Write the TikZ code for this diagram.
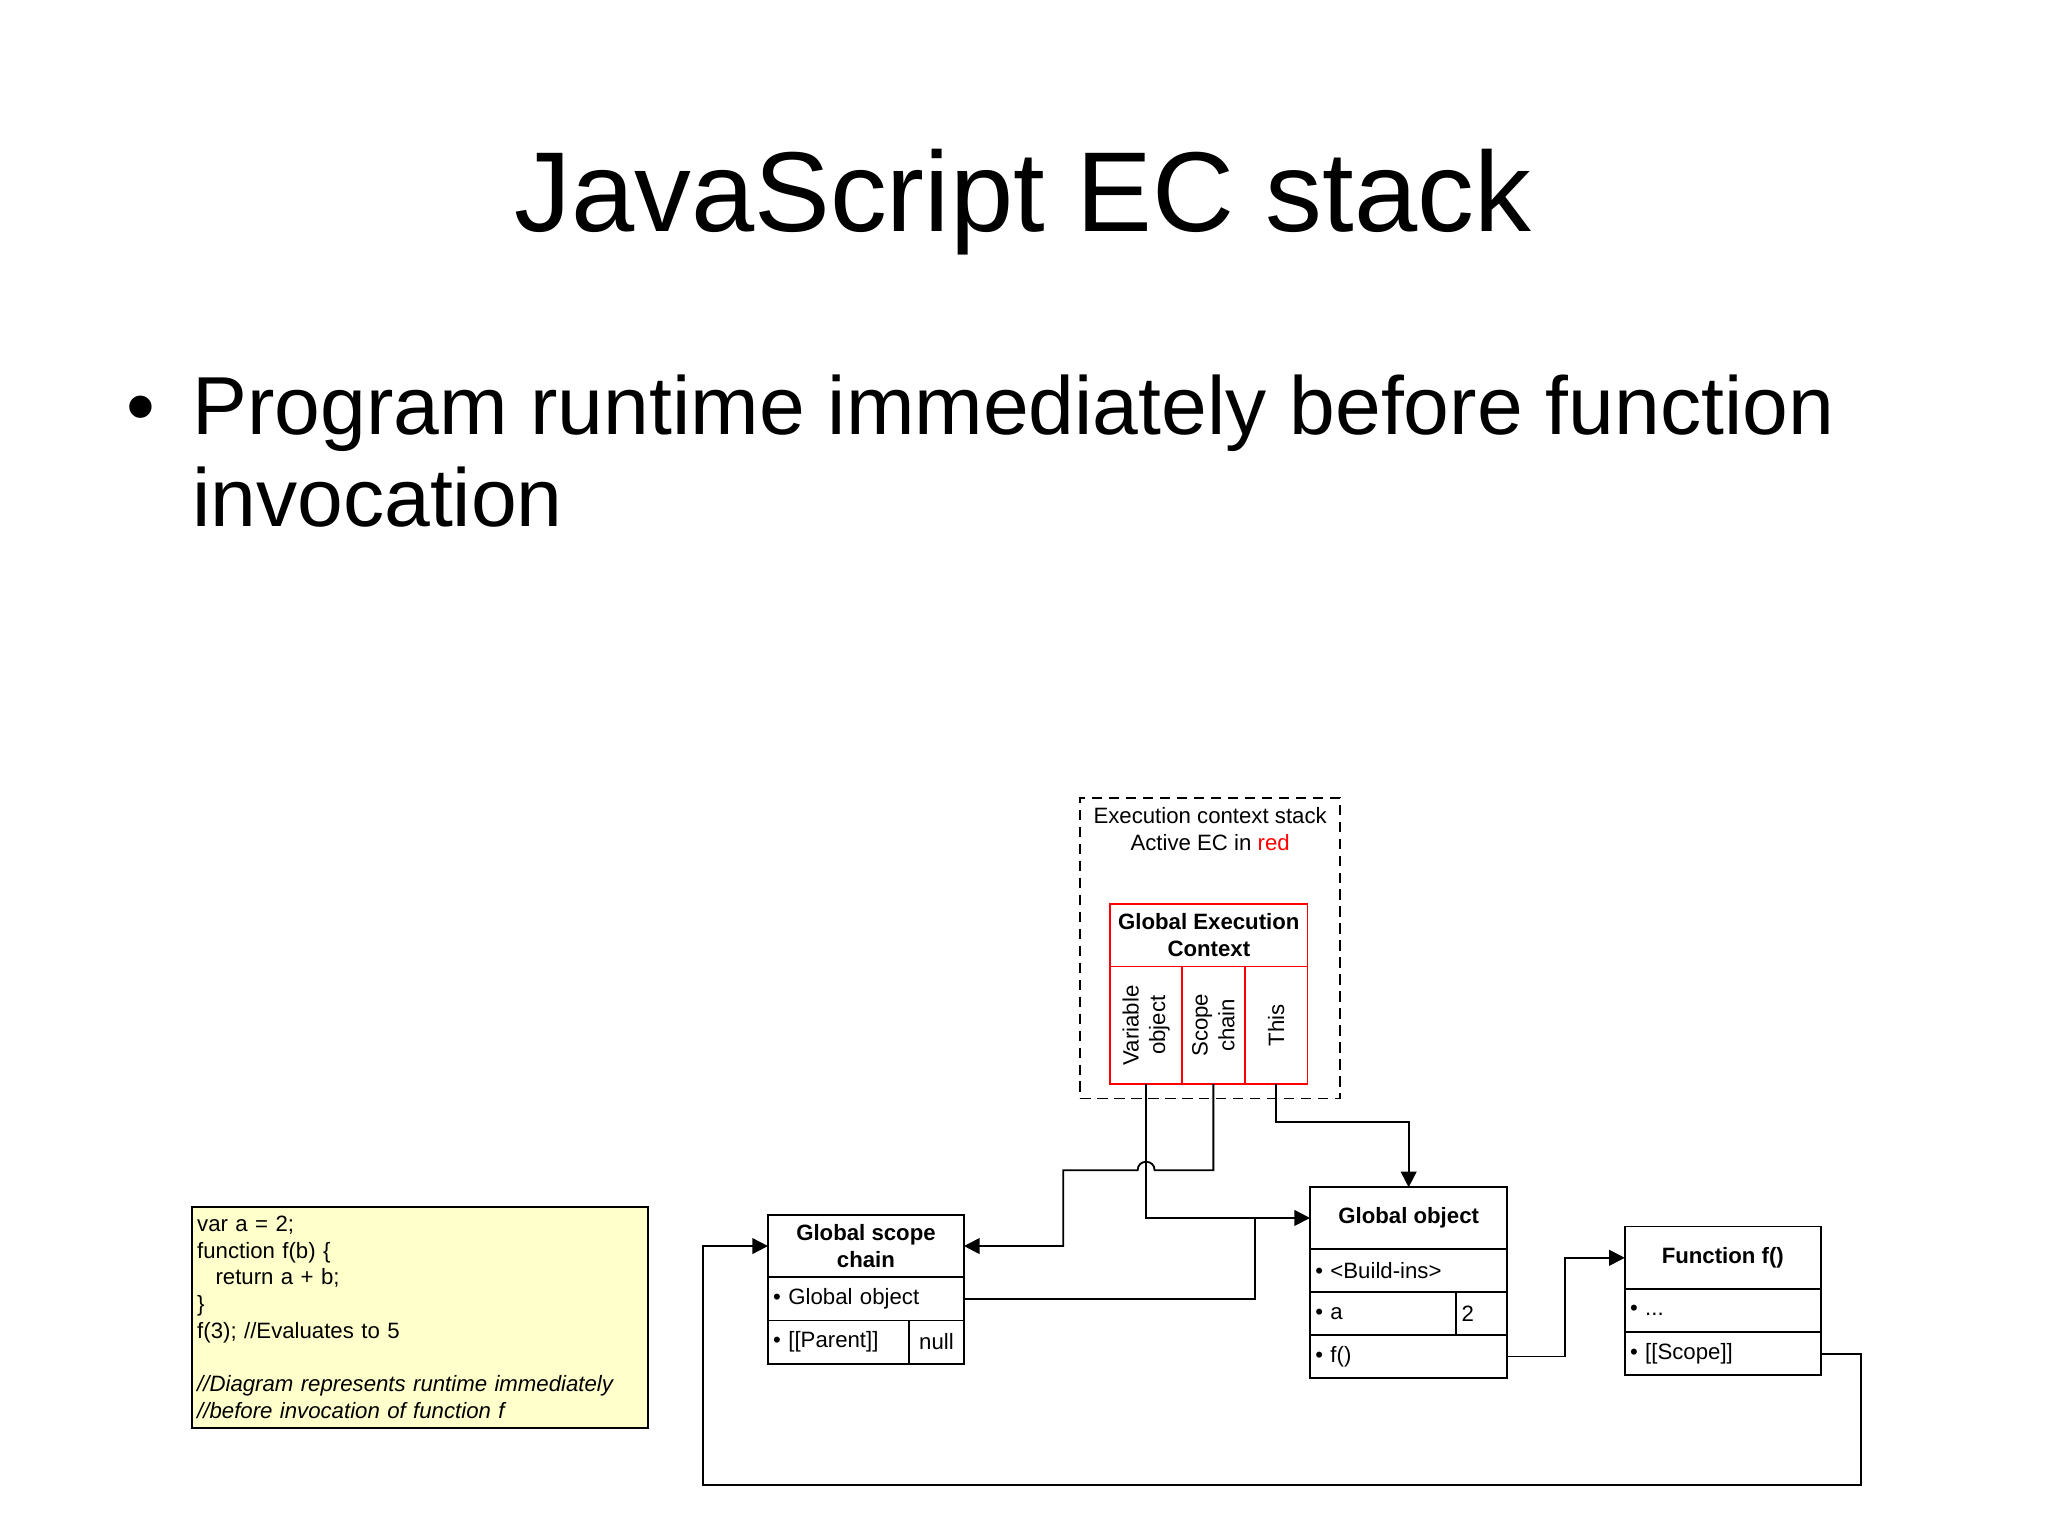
\documentclass[tikz,border=0pt]{standalone}
\usepackage{fontspec}
\setmainfont{Liberation Sans}
\usepackage{xcolor}
\definecolor{notepad}{HTML}{FFFFCC}
\definecolor{ecred}{HTML}{FF0000}
\usepackage{tikz}
\usetikzlibrary{arrows.meta,positioning,calc}
\newcommand{\diagfont}{\fontsize{17}{20.4}\selectfont}
\tikzset{
    obj_head/.style={draw=black, fill=white, line width=1.4pt, font=\diagfont\bfseries, align=center, inner sep=0pt, outer sep=0pt, minimum width=150pt, minimum height=48pt},
    obj_row/.style={draw=black, fill=white, line width=1.4pt, font=\diagfont, align=left, inner xsep=4pt, inner ysep=0pt, outer sep=0pt, minimum height=33pt},
    ec_head/.style={draw=ecred, fill=white, line width=1.4pt, font=\diagfont\bfseries, align=center, inner sep=0pt, outer sep=0pt, minimum width=151pt, minimum height=48pt},
    ec_col/.style={draw=ecred, fill=white, line width=1.4pt, inner sep=0pt, outer sep=0pt, minimum height=90pt},
    ec_text/.style={font=\diagfont, rotate=90, align=center, inner sep=0pt},
    stack_box/.style={draw=black, dash pattern=on 8pt off 5pt, line width=1.4pt, inner sep=0pt, outer sep=0pt, minimum width=199pt, minimum height=230pt},
    code_box/.style={draw=black, fill=notepad, line width=1.4pt, font=\diagfont, align=left, inner xsep=4pt, inner ysep=0pt, outer sep=0pt, text width=341pt, minimum height=169pt},
    conn/.style={draw=black, line width=1.4pt, -{Triangle[length=12pt,width=12pt]}},
    link/.style={draw=black, line width=1.4pt}
}

\begin{document}
\begin{tikzpicture}[x=1pt, y=-1pt]
\fill[white] (0,0) rectangle (1568,1175);
\useasboundingbox (0,0) rectangle (1568,1175);

% slide text
\node[font=\fontsize{87}{96}\selectfont, anchor=base, inner sep=0pt] (title) at (783,177) {JavaScript EC stack};
\node[font=\fontsize{63}{70}\selectfont, anchor=base west, inner sep=0pt] (dot) at (97,333) {•};
\node[font=\fontsize{63}{70}\selectfont, anchor=base west, inner sep=0pt] (line1) at (147,333) {Program runtime immediately before function};
\node[font=\fontsize{63}{70}\selectfont, anchor=base west, inner sep=0pt] (line2) at (147,403) {invocation};

% execution context stack
\node[stack_box, anchor=north west] (stack) at (827,611) {};
\node[font=\diagfont, align=center, inner sep=0pt] (stack_lbl) at (926.5,634.5) {Execution context stack\\Active EC in \textcolor{ecred}{red}};
\node[ec_head] (gec) at (925.5,716) {Global Execution\\Context};
\node[ec_col, minimum width=55pt, below right=0pt and 0pt of gec.south west] (vo) {};
\node[ec_col, minimum width=48pt, right=0pt of vo] (sc) {};
\node[ec_col, minimum width=48pt, right=0pt of sc] (th) {};
\node[ec_text] (vo_lbl) at (vo) {Variable\\object};
\node[ec_text] (sc_lbl) at (sc) {Scope\\chain};
\node[ec_text] (th_lbl) at (th) {This};

% code
\node[code_box, anchor=north west] (code) at (147,924) {var a = 2;\\
function f(b) \{\\
\hspace*{14pt}return a + b;\\
\}\\
f(3); //Evaluates to 5\\[20.4pt]
\textit{//Diagram represents runtime immediately}\\
\textit{//before invocation of function f}};

% global scope chain
\node[obj_head] (gsc) at (663,954) {Global scope\\chain};
\node[obj_row, text width=142pt, below=0pt of gsc] (gsc_obj) {• Global object};
\node[obj_row, text width=100pt, below right=0pt and 0pt of gsc_obj.south west] (gsc_par) {• [[Parent]]};
\node[obj_row, text width=34pt, align=center, right=0pt of gsc_par] (gsc_null) {null};

% global object
\node[obj_head, minimum width=151pt, minimum height=47pt] (gobj) at (1078.5,932.5) {Global object};
\node[obj_row, text width=143pt, below=0pt of gobj] (gobj_bi) {• <Build-ins>};
\node[obj_row, text width=104pt, below right=0pt and 0pt of gobj_bi.south west] (gobj_a) {• a};
\node[obj_row, text width=31pt, right=0pt of gobj_a] (gobj_2) {2};
\node[obj_row, text width=143pt, below right=0pt and 0pt of gobj_a.south west] (gobj_f) {• f()};

% function f
\node[obj_head] (fn) at (1319,963) {Function f()};
\node[obj_row, text width=142pt, below=0pt of fn] (fn_dots) {• ...};
\node[obj_row, text width=142pt, below=0pt of fn_dots] (fn_scope) {• [[Scope]]};

% connectors
\coordinate (sc_bend) at (814,896);
\coordinate (hop) at (vo.south |- sc_bend);
\coordinate (hop_r) at ($(hop)+(6.5,0)$);
\coordinate (hop_l) at ($(hop)+(-6.5,0)$);
\coordinate (join) at ([xshift=-42pt]gobj.west);
\coordinate (loop_r) at (1425,1137);
\coordinate (loop_l) at (538,1137);

\draw[conn] (th.south) -- ++(0,29) -| (gobj.north);
\draw[conn] (vo.south) |- (gobj.west);
\draw[conn] (sc.south) |- (hop_r) .. controls ($(hop_r)+(0,-8.7)$) and ($(hop_l)+(0,-8.7)$) .. (hop_l) -- (sc_bend) |- (gsc.east);
\draw[link] (gsc_obj.east) -| (join);
\draw[conn] (gobj_f.east) -- ++(44,0) |- (fn.west);
\draw[conn] (fn_scope.east) -| (loop_r) -- (loop_l) |- (gsc.west);
\end{tikzpicture}
\end{document}
